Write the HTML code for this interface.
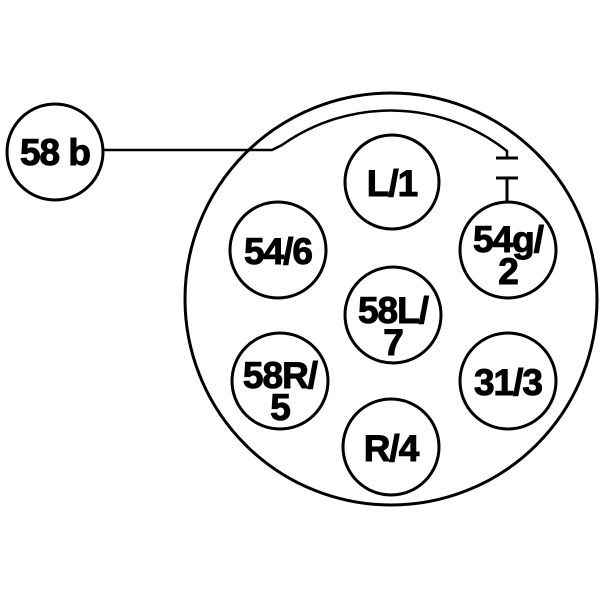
<!DOCTYPE html>
<html><head><style>html,body{margin:0;padding:0;background:#fff}</style></head>
<body>
<svg width="600" height="600" viewBox="0 0 600 600" xmlns="http://www.w3.org/2000/svg">
<g fill="none" stroke="#000" stroke-width="3">
<circle cx="391" cy="299" r="206"/>
<circle cx="55" cy="152" r="48"/>
<path d="M103 150 L272 150 L282 145 A188 188 0 0 1 507 151 L507 158" stroke-width="2.5"/>
<line x1="496" y1="158" x2="518" y2="158"/>
<line x1="496" y1="178" x2="518" y2="178"/>
<line x1="507" y1="178" x2="507" y2="202"/>
<circle cx="392" cy="182" r="47"/>
<circle cx="278" cy="250" r="48"/>
<circle cx="508" cy="250" r="48"/>
<circle cx="393" cy="315" r="48"/>
<circle cx="280" cy="381" r="48"/>
<circle cx="508" cy="381" r="48"/>
<circle cx="391" cy="447" r="48"/>
</g>
<g font-family="Liberation Sans, sans-serif" font-weight="bold" font-size="37" text-anchor="middle" fill="#000" stroke="#000" stroke-width="1" letter-spacing="-1">
<text x="55" y="165">58 b</text>
<text x="392" y="196">L/1</text>
<text x="278" y="264">54/6</text>
<text x="508" y="252">54g/</text>
<text x="508" y="284">2</text>
<text x="393" y="323">58L/</text>
<text x="393" y="355">7</text>
<text x="280" y="388">58R/</text>
<text x="280" y="420">5</text>
<text x="508" y="395">31/3</text>
<text x="391" y="461">R/4</text>
</g>
</svg>
</body></html>
